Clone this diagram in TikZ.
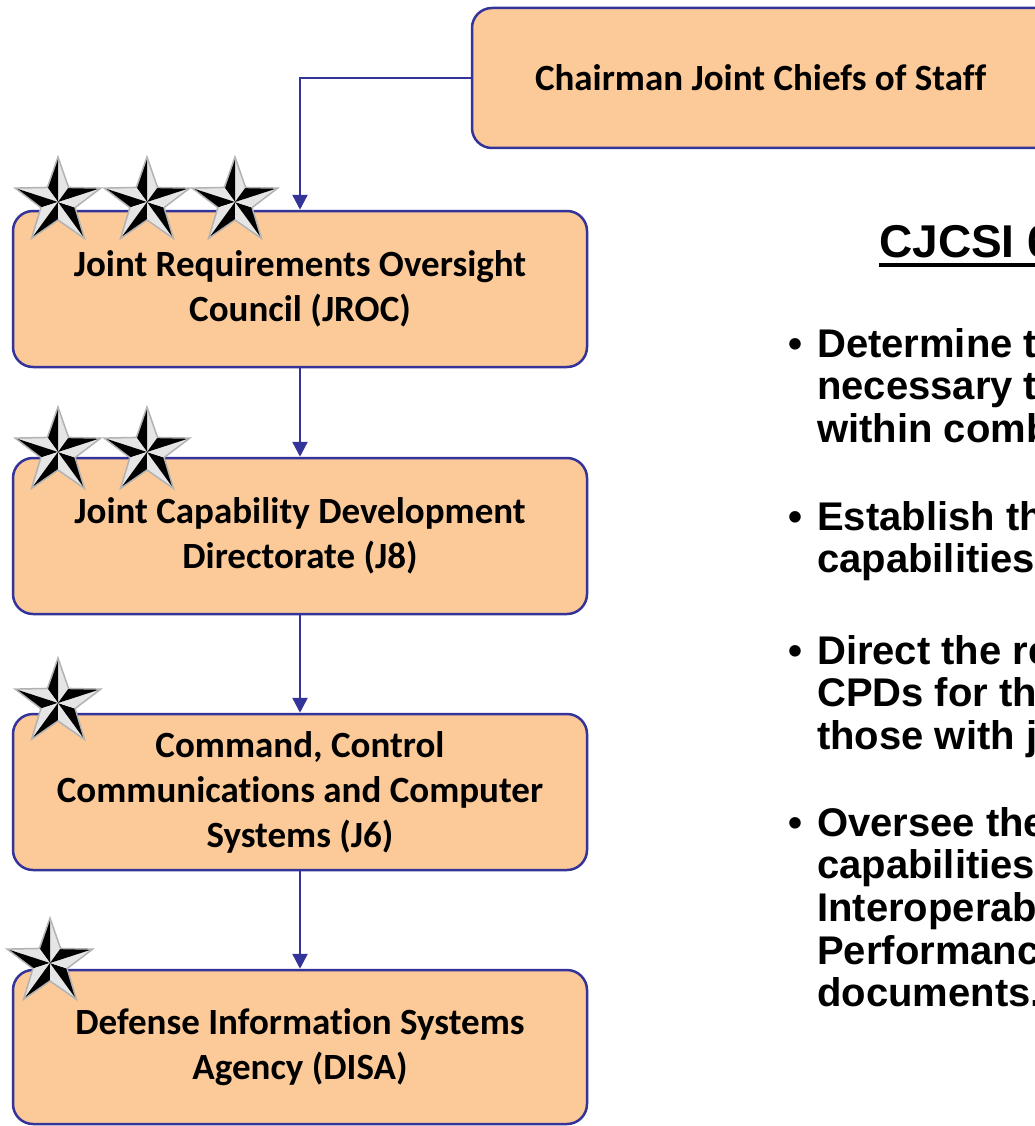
\documentclass[tikz,border=0pt]{standalone}
\usepackage{fontspec}
\usetikzlibrary{arrows.meta, positioning}

\newfontfamily\boxfont{Carlito}[Ligatures=NoCommon]
\newfontfamily\arialfont{Liberation Sans}

\definecolor{orgfill}{RGB}{252,202,152}
\definecolor{orgline}{RGB}{51,51,153}

\tikzset{
  office/.style={draw=orgline, line width=2.5pt, fill=orgfill, rounded corners=20pt,
    minimum width=574pt, minimum height=156pt, align=center,
    font=\boxfont\bfseries\fontsize{37}{45}\selectfont},
  link/.style={draw=orgline, line width=2.5pt, -{Triangle[width=15pt,length=15pt]}},
  duty/.style={anchor=base west, inner sep=0pt, align=flush left, text width=460pt,
    font=\arialfont\bfseries\fontsize{40}{42.7}\selectfont},
}

% bullet with hanging lines
\newcommand\dutyitem[1]{\leftskip=29pt\noindent\llap{\makebox[29pt][l]{\textbullet}}#1\par}

% silver rank star, centre (x,y), outer radius r
\newcommand\rankstar[3]{%
  \begin{scope}[shift={(#1,#2)}]
    \foreach \k in {0,...,4} {
      \pgfmathsetmacro\tip{90+72*\k}
      \fill[gray!20] (0,0) -- (\tip:#3) -- (\tip-36:0.4*#3) -- cycle;
      \fill[black] (0,0) -- (\tip:#3) -- (\tip+36:0.4*#3) -- cycle;
    }
    \draw[gray!60, line width=1.5pt, line join=miter]
      (90:#3) -- (126:0.4*#3) -- (162:#3) -- (198:0.4*#3) -- (234:#3) -- (270:0.4*#3)
      -- (306:#3) -- (342:0.4*#3) -- (18:#3) -- (54:0.4*#3) -- cycle;
  \end{scope}}

\begin{document}
\begin{tikzpicture}[x=1pt, y=1pt]

  \useasboundingbox (0,0) rectangle (1035,-1126);
  \clip (0,0) rectangle (1035,-1126);

  %% chain of offices
  \node[office, minimum width=640pt, minimum height=140pt, align=flush left,
    text width=514pt, inner xsep=63pt] (chair) at (792,-78) {Chairman Joint Chiefs of Staff};
  \node[office] (jroc) at (300,-289) {Joint Requirements Oversight\\Council (JROC)};
  \node[office] (jeight) at (300,-536) {Joint Capability Development\\Directorate (J8)};
  \node[office] (jsix) at (300,-792) {Command, Control\\Communications and Computer\\Systems (J6)};
  \node[office, minimum height=154pt] (disa) at (300,-1047) {Defense Information Systems\\Agency (DISA)};

  % reporting lines
  \draw[link] (chair.west) -| (jroc.north);
  \draw[link] (jroc.south) -- (jeight.north);
  \draw[link] (jeight.south) -- (jsix.north);
  \draw[link] (jsix.south) -- (disa.north);

  % rank stars
  \rankstar{58}{-202}{45}
  \rankstar{147}{-202}{45}
  \rankstar{235}{-202}{45}
  \rankstar{58}{-452}{45}
  \rankstar{147}{-452}{45}
  \rankstar{58}{-703}{45}
  \rankstar{50}{-963}{45}

  %% CJCSI duties
  \node[anchor=base west, inner sep=0pt, font=\arialfont\bfseries\fontsize{46}{50}\selectfont]
    (head) at (879,-257) {CJCSI 6212.01};
  \draw[line width=4pt] ([yshift=-7.5pt]head.base west) -- ([yshift=-7.5pt]head.base east);

  \node[duty] (d1) at (788,-357) {\dutyitem{Determine the\\necessary to\\within combatant}};
  \node[duty] (d2) at (788,-530) {\dutyitem{Establish the\\capabilities}};
  \node[duty] (d3) at (788,-664) {\dutyitem{Direct the review\\CPDs for the\\those with joint}};
  \node[duty] (d4) at (788,-836) {\dutyitem{Oversee the\\capabilities\\Interoperability\\Performance\\documents.}};

\end{tikzpicture}
\end{document}
